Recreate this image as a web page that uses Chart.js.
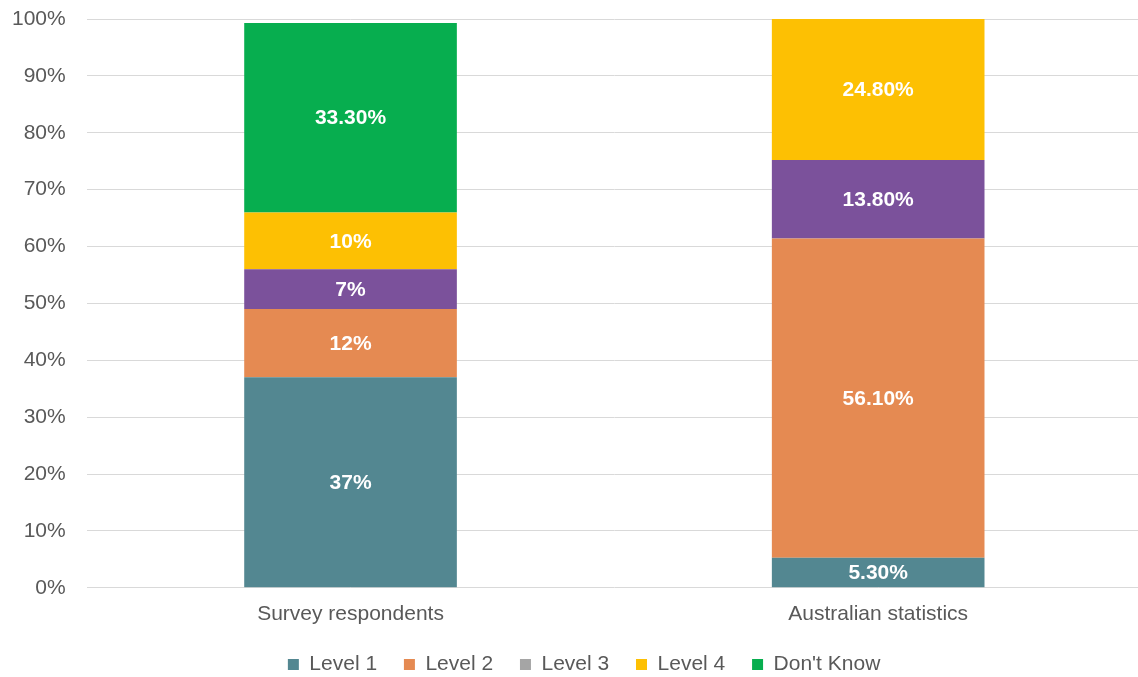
<!DOCTYPE html>
<html>
<head>
<meta charset="utf-8">
<script src="https://cdn.jsdelivr.net/npm/chart.js@4/dist/chart.umd.min.js"></script>
<style>
  html, body { margin: 0; padding: 0; background: #fff; overflow: hidden; }
</style>
</head>
<body>
<canvas id="mychart" width="1142" height="685"></canvas>
<script>
let groups = ["Survey respondents", "Australian statistics"];
let level1 = [37, 5.3];
let level2 = [12, 56.1];
let level3 = [7, 13.8];
let level4 = [10, 24.8];
let dontKnow = [33.3, null];
let yTicks = [0, 10, 20, 30, 40, 50, 60, 70, 80, 90, 100];

let barColors = ["#538791", "#E58A52", "#7B519B", "#FDC003", "#07AE4F"];
// Level 3 shows grey in the key even though its bars are purple
let keyColors = ["#538791", "#E58A52", "#A5A5A5", "#FDC003", "#07AE4F"];

Chart.defaults.font.family = "'Liberation Sans', Arial, sans-serif";
Chart.defaults.font.size = 21;
Chart.defaults.color = "#595959";

function pct(v) {
  return Number.isInteger(v) ? v + "%" : v.toFixed(2) + "%";
}

// white value text in the middle of every segment
let segmentLabels = {
  id: "segmentLabels",
  afterDatasetsDraw(chart) {
    let ctx = chart.ctx;
    ctx.save();
    ctx.fillStyle = "#ffffff";
    ctx.font = "bold 21px 'Liberation Sans', Arial, sans-serif";
    ctx.textAlign = "center";
    ctx.textBaseline = "middle";
    chart.data.datasets.forEach((ds, i) => {
      let meta = chart.getDatasetMeta(i);
      meta.data.forEach((bar, j) => {
        let v = ds.data[j];
        if (!v) return;
        let p = bar.getProps(["x", "y", "base"], true);
        ctx.fillText(pct(v), p.x, (p.y + p.base) / 2 + 1);
      });
    });
    ctx.restore();
  }
};

// nudge the legend a little to the right of centre
let legendShift = {
  id: "legendShift",
  afterLayout(chart) {
    if (!chart.legend) return;
    chart.legend.left += 10;
    chart.legend.right += 10;
  }
};

let mychart = document.getElementById("mychart").getContext("2d");

let chart = new Chart(mychart, {
  type: "bar",
  data: {
    labels: groups,
    datasets: [
      { label: "Level 1", data: level1, backgroundColor: barColors[0] },
      { label: "Level 2", data: level2, backgroundColor: barColors[1] },
      { label: "Level 3", data: level3, backgroundColor: barColors[2] },
      { label: "Level 4", data: level4, backgroundColor: barColors[3] },
      { label: "Don't Know", data: dontKnow, backgroundColor: barColors[4] },
    ],
  },
  options: {
    responsive: false,
    animation: false,
    layout: { padding: { left: 12, right: 0, top: 19, bottom: 0 } },
    datasets: {
      bar: { categoryPercentage: 0.403, barPercentage: 1 }
    },
    scales: {
      x: {
        stacked: true,
        grid: { display: false },
        border: { display: false },
        ticks: { padding: 6, color: "#595959" },
      },
      y: {
        stacked: true,
        min: 0,
        max: 100,
        afterBuildTicks(axis) {
          axis.ticks = yTicks.map((v) => ({ value: v }));
        },
        // invisible tick marks keep the labels clear of the plot
        grid: { color: "#d9d9d9", lineWidth: 1, drawTicks: true, tickLength: 21, tickColor: "rgba(0,0,0,0)" },
        border: { display: false },
        ticks: {
          padding: 0,
          color: "#595959",
          callback: (v) => v + "%",
        },
      },
    },
    plugins: {
      tooltip: { enabled: false },
      legend: {
        position: "bottom",
        labels: {
          boxWidth: 11,
          boxHeight: 11,
          padding: 21,
          color: "#595959",
          generateLabels(chart) {
            let items = Chart.defaults.plugins.legend.labels.generateLabels(chart);
            items.forEach((it, i) => {
              it.text = it.text + " ";
              it.fillStyle = keyColors[i];
              it.strokeStyle = keyColors[i];
              it.lineWidth = 0;
            });
            return items;
          },
        },
      },
    },
  },
  plugins: [segmentLabels, legendShift],
});
</script>
</body>
</html>
